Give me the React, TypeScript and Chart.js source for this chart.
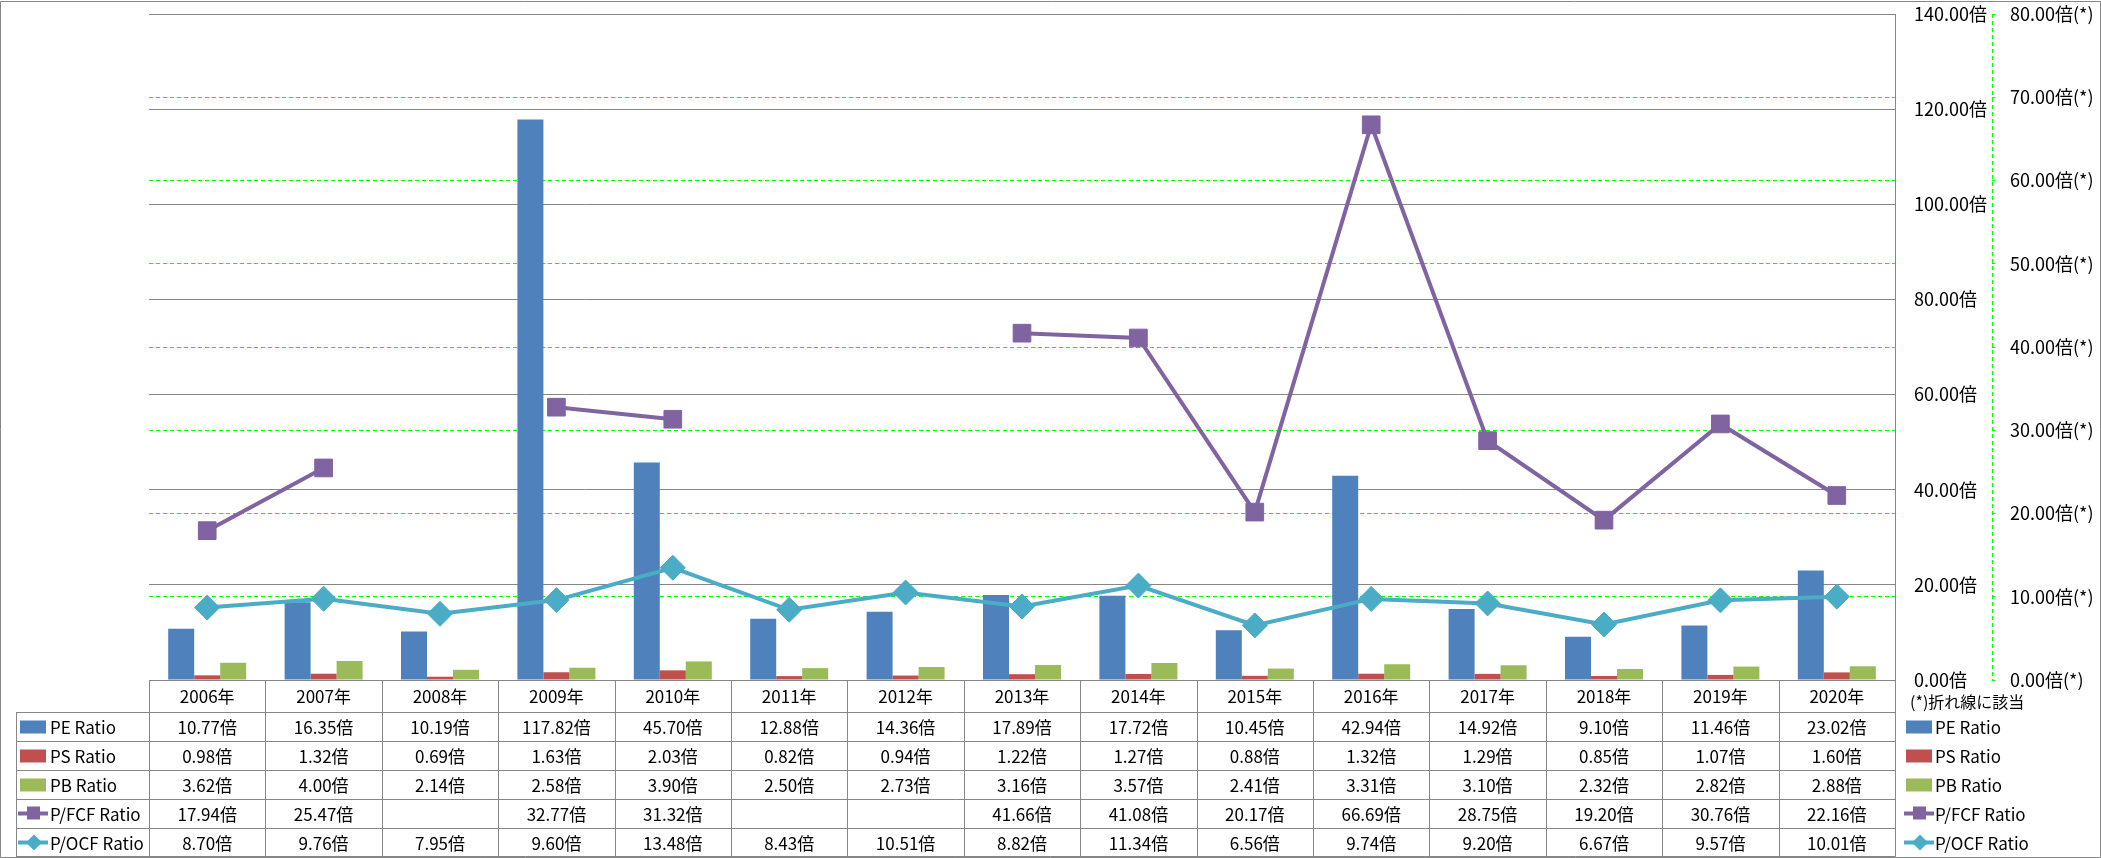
import React, { useEffect, useRef } from "react";
import { Chart, registerables } from "chart.js";

Chart.register(...registerables);

const years = ["2006年", "2007年", "2008年", "2009年", "2010年", "2011年", "2012年", "2013年", "2014年", "2015年", "2016年", "2017年", "2018年", "2019年", "2020年"];
const peRatio = [10.77, 16.35, 10.19, 117.82, 45.70, 12.88, 14.36, 17.89, 17.72, 10.45, 42.94, 14.92, 9.10, 11.46, 23.02];
const psRatio = [0.98, 1.32, 0.69, 1.63, 2.03, 0.82, 0.94, 1.22, 1.27, 0.88, 1.32, 1.29, 0.85, 1.07, 1.60];
const pbRatio = [3.62, 4.00, 2.14, 2.58, 3.90, 2.50, 2.73, 3.16, 3.57, 2.41, 3.31, 3.10, 2.32, 2.82, 2.88];
const pfcfRatio: (number | null)[] = [17.94, 25.47, null, 32.77, 31.32, null, null, 41.66, 41.08, 20.17, 66.69, 28.75, 19.20, 30.76, 22.16];
const pocfRatio = [8.70, 9.76, 7.95, 9.60, 13.48, 8.43, 10.51, 8.82, 11.34, 6.56, 9.74, 9.20, 6.67, 9.57, 10.01];

const seriesNames = ["PE Ratio", "PS Ratio", "PB Ratio", "P/FCF Ratio", "P/OCF Ratio"];
const seriesColors = ["#4F81BD", "#C0504D", "#9BBB59", "#8064A2", "#4BACC6"];
const primaryMax = 140;
const primaryStep = 20;
const secondaryMax = 80;
const secondaryStep = 10;
const unit = "倍";
const secondaryMark = "(*)";
const noteLabel = "(*)折れ線に該当";

const FONT = '"Noto Sans CJK JP", "Noto Sans", sans-serif';
const GRAY = "#868686";
const GREEN = "#00FF00";

const fmt = (v: number | null) => (v === null || v === undefined ? "" : v.toFixed(2) + unit);

function drawKey(ctx: CanvasRenderingContext2D, idx: number, x: number, cy: number) {
  const color = seriesColors[idx];
  ctx.save();
  if (idx < 3) {
    ctx.fillStyle = color;
    ctx.fillRect(x, cy - 6, 26, 13);
  } else {
    ctx.strokeStyle = color;
    ctx.lineWidth = 4;
    ctx.beginPath();
    ctx.moveTo(x - 2, cy);
    ctx.lineTo(x + 28, cy);
    ctx.stroke();
    ctx.fillStyle = color;
    if (idx === 3) {
      ctx.fillRect(x + 7, cy - 7, 13, 13);
    } else {
      const cx = x + 14;
      ctx.beginPath();
      ctx.moveTo(cx, cy - 8);
      ctx.lineTo(cx + 8, cy);
      ctx.lineTo(cx, cy + 8);
      ctx.lineTo(cx - 8, cy);
      ctx.closePath();
      ctx.fill();
    }
  }
  ctx.restore();
}

const tablePlugin = {
  id: "dataTable",
  afterDraw(chart: any) {
    const ctx: CanvasRenderingContext2D = chart.ctx;
    const xs = chart.scales.x;
    const y2 = chart.scales.y2;
    const area = chart.chartArea;
    const n = years.length;
    const half = (xs.getPixelForValue(1) - xs.getPixelForValue(0)) / 2;
    const top = area.bottom;
    const headerBottom = top + 32;
    const rowH = 29;
    const rows = [peRatio, psRatio, pbRatio, pfcfRatio, pocfRatio];
    const tableBottom = headerBottom + rowH * rows.length - 1;
    const leftCol = 16;
    const al = (v: number) => Math.round(v) + 0.5;

    ctx.save();
    // secondary axis dashed line
    ctx.strokeStyle = GREEN;
    ctx.lineWidth = 1;
    ctx.setLineDash([4, 3]);
    ctx.beginPath();
    ctx.moveTo(al(y2.left), area.top);
    ctx.lineTo(al(y2.left), area.bottom);
    ctx.stroke();
    ctx.setLineDash([]);

    // table grid
    ctx.strokeStyle = GRAY;
    ctx.lineWidth = 1;
    ctx.beginPath();
    for (let r = 0; r <= rows.length; r++) {
      const yy = r === rows.length ? al(tableBottom) : al(headerBottom + r * rowH);
      ctx.moveTo(leftCol, yy);
      ctx.lineTo(al(area.right), yy);
    }
    for (let i = 0; i <= n; i++) {
      const xx = al(i < n ? xs.getPixelForValue(i) - half : xs.getPixelForValue(n - 1) + half);
      ctx.moveTo(xx, al(top));
      ctx.lineTo(xx, al(tableBottom));
    }
    ctx.moveTo(al(leftCol), al(headerBottom));
    ctx.lineTo(al(leftCol), al(tableBottom));
    // outer border
    ctx.rect(0.5, 1.5, chart.width - 1, chart.height - 2);
    ctx.stroke();

    // texts
    ctx.fillStyle = "#000";
    ctx.textBaseline = "middle";
    ctx.textAlign = "center";
    ctx.font = `17px ${FONT}`;
    for (let i = 0; i < n; i++) {
      const cx = xs.getPixelForValue(i);
      ctx.fillText(years[i], cx, (top + headerBottom) / 2 + 1);
      rows.forEach((row, r) => {
        ctx.fillText(fmt(row[i] as any), cx, headerBottom + r * rowH + rowH / 2 + 1);
      });
    }
    ctx.textAlign = "left";
    rows.forEach((_, r) => {
      const cy = headerBottom + r * rowH + rowH / 2;
      drawKey(ctx, r, 20, cy);
      ctx.fillStyle = "#000";
      ctx.fillText(seriesNames[r], 50, cy + 1);
      drawKey(ctx, r, 1906, cy);
      ctx.fillStyle = "#000";
      ctx.fillText(seriesNames[r], 1935, cy + 1);
    });
    ctx.font = `16px ${FONT}`;
    ctx.fillText(noteLabel, 1910, 702);
    ctx.restore();
  },
};

export default function App() {
  const ref = useRef<HTMLCanvasElement>(null);
  useEffect(() => {
    if (!ref.current) return;
    const chart = new Chart(ref.current, {
      type: "bar",
      data: {
        labels: years,
        datasets: [
          { label: seriesNames[0], data: peRatio, backgroundColor: seriesColors[0], yAxisID: "y", order: 2 },
          { label: seriesNames[1], data: psRatio, backgroundColor: seriesColors[1], yAxisID: "y", order: 2 },
          { label: seriesNames[2], data: pbRatio, backgroundColor: seriesColors[2], yAxisID: "y", order: 2 },
          {
            type: "line", label: seriesNames[3], data: pfcfRatio as any, yAxisID: "y2", order: 1,
            borderColor: seriesColors[3], backgroundColor: seriesColors[3], borderWidth: 4,
            pointStyle: "rect", pointRadius: 12.5, pointBorderWidth: 1, spanGaps: false,
          } as any,
          {
            type: "line", label: seriesNames[4], data: pocfRatio, yAxisID: "y2", order: 1,
            borderColor: seriesColors[4], backgroundColor: seriesColors[4], borderWidth: 4,
            pointStyle: "rectRot", pointRadius: 12.5, pointBorderWidth: 1,
          } as any,
        ],
      },
      options: {
        responsive: false,
        animation: false,
        devicePixelRatio: 1,
        layout: { padding: { left: 149, top: 14, right: 0, bottom: 178 } },
        datasets: { bar: { categoryPercentage: 0.67, barPercentage: 1 } } as any,
        plugins: { legend: { display: false }, tooltip: { enabled: false } },
        scales: {
          x: { display: false, offset: true, grid: { display: false } },
          y: {
            position: "right",
            weight: 0,
            min: 0,
            max: primaryMax,
            ticks: {
              stepSize: primaryStep,
              padding: 19,
              color: "#000",
              font: { family: FONT, size: 18 },
              callback: (v: any) => Number(v).toFixed(2) + unit,
            },
            grid: { color: GRAY, lineWidth: 1, drawTicks: false, z: -1 } as any,
            border: { display: true, color: GRAY, width: 1 },
            afterFit: (s: any) => { s.width = 97; s.paddingTop = 0; s.paddingBottom = 0; },
          },
          y2: {
            position: "right",
            weight: 1,
            min: 0,
            max: secondaryMax,
            ticks: {
              stepSize: secondaryStep,
              padding: 15,
              color: "#000",
              font: { family: FONT, size: 18 },
              callback: (v: any) => Number(v).toFixed(2) + unit + secondaryMark,
            },
            grid: { color: GREEN, lineWidth: 1, drawTicks: true, tickLength: 3, tickColor: GREEN, z: -2 } as any,
            border: { display: false, dash: [4, 3] },
            afterFit: (s: any) => { s.width = 109; s.paddingTop = 0; s.paddingBottom = 0; },
          },
        },
      },
      plugins: [tablePlugin],
    });
    return () => chart.destroy();
  }, []);
  return (
    <div style={{ position: "absolute", left: 0, top: 0, width: 2101, height: 858, background: "#fff" }}>
      <canvas ref={ref} width={2101} height={858} style={{ width: 2101, height: 858, display: "block" }} />
    </div>
  );
}
